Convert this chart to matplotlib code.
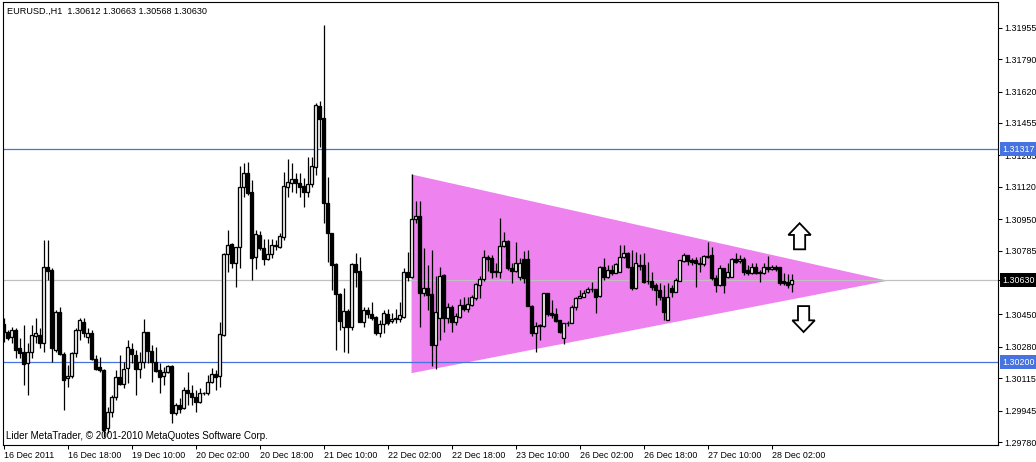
import matplotlib
matplotlib.use("Agg")
import matplotlib.pyplot as plt
import matplotlib.transforms as mtransforms
from matplotlib.patches import Polygon, FancyArrow
import numpy as np

plt.rcParams['font.family'] = ['Liberation Sans', 'DejaVu Sans']

# EURUSD H1 candles (one row = 10 bars)
opens = np.array([
    1.30400, 1.30360, 1.30330, 1.30368, 1.30272, 1.30251, 1.30194, 1.30255, 1.30337, 1.30342,
    1.30299, 1.30701, 1.30684, 1.30263, 1.30465, 1.30243, 1.30115, 1.30129, 1.30246, 1.30368,
    1.30412, 1.30330, 1.30351, 1.30215, 1.30176, 1.30158, 1.29852, 1.29940, 1.30018, 1.30123,
    1.30085, 1.30167, 1.30269, 1.30237, 1.30162, 1.30202, 1.30356, 1.30260, 1.30199, 1.30158,
    1.30129, 1.30146, 1.30180, 1.29931, 1.29975, 1.29957, 1.30053, 1.30036, 1.30018, 1.29989,
    1.30036, 1.30036, 1.30094, 1.30138, 1.30129, 1.30342, 1.30768, 1.30818, 1.30719, 1.30803,
    1.31118, 1.31191, 1.31091, 1.30750, 1.30867, 1.30797, 1.30740, 1.30768, 1.30810, 1.30806,
    1.30855, 1.31121, 1.31142, 1.31160, 1.31142, 1.31125, 1.31095, 1.31133, 1.31226, 1.31545,
    1.31480, 1.31037, 1.30876, 1.30715, 1.30558, 1.30383, 1.30468, 1.30383, 1.30713, 1.30680,
    1.30412, 1.30474, 1.30453, 1.30435, 1.30354, 1.30400, 1.30453, 1.30416, 1.30426, 1.30426,
    1.30438, 1.30671, 1.30648, 1.30950, 1.30967, 1.30564, 1.30591, 1.30558, 1.30290, 1.30430,
    1.30657, 1.30430, 1.30488, 1.30409, 1.30438, 1.30500, 1.30477, 1.30500, 1.30535, 1.30605,
    1.30635, 1.30750, 1.30745, 1.30680, 1.30675, 1.30810, 1.30836, 1.30696, 1.30680, 1.30645,
    1.30740, 1.30740, 1.30495, 1.30354, 1.30390, 1.30391, 1.30561, 1.30459, 1.30453, 1.30421,
    1.30325, 1.30404, 1.30407, 1.30488, 1.30535, 1.30543, 1.30570, 1.30582, 1.30582, 1.30547,
    1.30701, 1.30648, 1.30684, 1.30669, 1.30675, 1.30753, 1.30774, 1.30701, 1.30587, 1.30705,
    1.30710, 1.30626, 1.30626, 1.30605, 1.30579, 1.30543, 1.30421, 1.30587, 1.30570, 1.30627,
    1.30732, 1.30762, 1.30736, 1.30736, 1.30719, 1.30713, 1.30750, 1.30762, 1.30643, 1.30605,
    1.30692, 1.30648, 1.30648, 1.30740, 1.30731, 1.30740, 1.30684, 1.30669, 1.30698, 1.30675,
    1.30669, 1.30698, 1.30687, 1.30701, 1.30698, 1.30626, 1.30619, 1.30612,
])
highs = np.array([
    1.30430, 1.30368, 1.30384, 1.30379, 1.30325, 1.30395, 1.30299, 1.30395, 1.30430, 1.30377,
    1.30841, 1.30841, 1.30694, 1.30474, 1.30491, 1.30253, 1.30185, 1.30253, 1.30379, 1.30433,
    1.30430, 1.30377, 1.30368, 1.30237, 1.30228, 1.30164, 1.29966, 1.30027, 1.30158, 1.30237,
    1.30200, 1.30316, 1.30299, 1.30263, 1.30255, 1.30426, 1.30360, 1.30290, 1.30278, 1.30194,
    1.30176, 1.30185, 1.30185, 1.29984, 1.30011, 1.30068, 1.30150, 1.30080, 1.30053, 1.30062,
    1.30045, 1.30132, 1.30167, 1.30158, 1.30409, 1.30771, 1.30894, 1.30827, 1.30806, 1.31230,
    1.31244, 1.31252, 1.31156, 1.30894, 1.30890, 1.30845, 1.30845, 1.30845, 1.30841, 1.30876,
    1.31200, 1.31265, 1.31247, 1.31194, 1.31191, 1.31165, 1.31278, 1.31278, 1.31560, 1.31572,
    1.31970, 1.31173, 1.30878, 1.30720, 1.30563, 1.30587, 1.30477, 1.30719, 1.30771, 1.30750,
    1.30491, 1.30491, 1.30517, 1.30442, 1.30421, 1.30474, 1.30477, 1.30459, 1.30477, 1.30517,
    1.30692, 1.30780, 1.31188, 1.31047, 1.31047, 1.30797, 1.30710, 1.30789, 1.30652, 1.30701,
    1.30662, 1.30509, 1.30500, 1.30456, 1.30530, 1.30543, 1.30543, 1.30552, 1.30617, 1.30652,
    1.30789, 1.30762, 1.30762, 1.30719, 1.30955, 1.30885, 1.30841, 1.30719, 1.30832, 1.30747,
    1.30785, 1.30789, 1.30500, 1.30410, 1.30400, 1.30564, 1.30564, 1.30526, 1.30482, 1.30421,
    1.30407, 1.30416, 1.30500, 1.30543, 1.30579, 1.30579, 1.30596, 1.30622, 1.30584, 1.30705,
    1.30748, 1.30710, 1.30710, 1.30719, 1.30815, 1.30815, 1.30778, 1.30789, 1.30780, 1.30768,
    1.30771, 1.30727, 1.30671, 1.30614, 1.30614, 1.30605, 1.30614, 1.30605, 1.30640, 1.30736,
    1.30771, 1.30762, 1.30745, 1.30753, 1.30753, 1.30762, 1.30832, 1.30806, 1.30657, 1.30710,
    1.30694, 1.30719, 1.30745, 1.30771, 1.30762, 1.30753, 1.30710, 1.30719, 1.30719, 1.30684,
    1.30719, 1.30757, 1.30710, 1.30710, 1.30699, 1.30669, 1.30662, 1.30663,
])
lows = np.array([
    1.30307, 1.30316, 1.30299, 1.30220, 1.30220, 1.30080, 1.30027, 1.30220, 1.30299, 1.30272,
    1.30255, 1.30631, 1.30202, 1.30253, 1.30237, 1.29948, 1.30071, 1.30116, 1.30228, 1.30316,
    1.30333, 1.30299, 1.30211, 1.30158, 1.30150, 1.29808, 1.29826, 1.29913, 1.30001, 1.30080,
    1.30064, 1.30089, 1.30194, 1.30027, 1.30115, 1.30167, 1.30194, 1.30097, 1.30150, 1.30036,
    1.30080, 1.30141, 1.29879, 1.29922, 1.29933, 1.29952, 1.29975, 1.29975, 1.29940, 1.29984,
    1.30027, 1.30027, 1.30089, 1.30053, 1.30071, 1.30337, 1.30675, 1.30692, 1.30596, 1.30692,
    1.31068, 1.31077, 1.30631, 1.30687, 1.30789, 1.30710, 1.30736, 1.30745, 1.30789, 1.30799,
    1.30841, 1.31068, 1.31095, 1.31089, 1.31068, 1.31016, 1.31068, 1.31121, 1.31182, 1.31331,
    1.30929, 1.30727, 1.30579, 1.30263, 1.30368, 1.30255, 1.30249, 1.30368, 1.30596, 1.30410,
    1.30386, 1.30432, 1.30421, 1.30342, 1.30333, 1.30351, 1.30395, 1.30404, 1.30407, 1.30410,
    1.30432, 1.30627, 1.30642, 1.30930, 1.30386, 1.30547, 1.30474, 1.30181, 1.30164, 1.30316,
    1.30360, 1.30404, 1.30360, 1.30395, 1.30432, 1.30468, 1.30463, 1.30495, 1.30526, 1.30535,
    1.30627, 1.30680, 1.30640, 1.30648, 1.30640, 1.30804, 1.30684, 1.30614, 1.30673, 1.30631,
    1.30614, 1.30495, 1.30337, 1.30255, 1.30316, 1.30386, 1.30442, 1.30432, 1.30410, 1.30353,
    1.30295, 1.30390, 1.30404, 1.30474, 1.30535, 1.30542, 1.30563, 1.30568, 1.30456, 1.30543,
    1.30631, 1.30642, 1.30657, 1.30668, 1.30673, 1.30747, 1.30694, 1.30579, 1.30584, 1.30684,
    1.30614, 1.30610, 1.30579, 1.30500, 1.30526, 1.30421, 1.30421, 1.30543, 1.30568, 1.30626,
    1.30726, 1.30710, 1.30710, 1.30596, 1.30675, 1.30705, 1.30747, 1.30631, 1.30570, 1.30600,
    1.30561, 1.30642, 1.30647, 1.30719, 1.30720, 1.30657, 1.30657, 1.30662, 1.30662, 1.30622,
    1.30662, 1.30673, 1.30684, 1.30678, 1.30605, 1.30605, 1.30587, 1.30568,
])
closes = np.array([
    1.30360, 1.30325, 1.30368, 1.30263, 1.30249, 1.30190, 1.30255, 1.30342, 1.30351, 1.30299,
    1.30701, 1.30680, 1.30272, 1.30465, 1.30243, 1.30106, 1.30129, 1.30246, 1.30368, 1.30421,
    1.30351, 1.30351, 1.30215, 1.30164, 1.30158, 1.29843, 1.29940, 1.30018, 1.30123, 1.30085,
    1.30162, 1.30278, 1.30243, 1.30162, 1.30202, 1.30356, 1.30260, 1.30199, 1.30155, 1.30123,
    1.30150, 1.30180, 1.29934, 1.29975, 1.29955, 1.30053, 1.30036, 1.30015, 1.29992, 1.30036,
    1.30038, 1.30094, 1.30138, 1.30123, 1.30348, 1.30768, 1.30815, 1.30719, 1.30803, 1.31118,
    1.31191, 1.31089, 1.30745, 1.30872, 1.30797, 1.30740, 1.30768, 1.30815, 1.30813, 1.30862,
    1.31125, 1.31146, 1.31160, 1.31139, 1.31121, 1.31095, 1.31133, 1.31230, 1.31548, 1.31475,
    1.31037, 1.30876, 1.30710, 1.30558, 1.30417, 1.30468, 1.30383, 1.30713, 1.30675, 1.30412,
    1.30474, 1.30453, 1.30430, 1.30351, 1.30400, 1.30456, 1.30407, 1.30426, 1.30432, 1.30447,
    1.30671, 1.30648, 1.30950, 1.30967, 1.30564, 1.30591, 1.30552, 1.30290, 1.30465, 1.30652,
    1.30430, 1.30488, 1.30412, 1.30442, 1.30500, 1.30477, 1.30503, 1.30543, 1.30608, 1.30635,
    1.30750, 1.30740, 1.30675, 1.30675, 1.30811, 1.30836, 1.30692, 1.30680, 1.30719, 1.30719,
    1.30643, 1.30495, 1.30354, 1.30390, 1.30395, 1.30561, 1.30453, 1.30447, 1.30417, 1.30360,
    1.30404, 1.30407, 1.30491, 1.30535, 1.30549, 1.30561, 1.30582, 1.30584, 1.30543, 1.30698,
    1.30648, 1.30684, 1.30669, 1.30713, 1.30750, 1.30774, 1.30701, 1.30587, 1.30719, 1.30710,
    1.30622, 1.30626, 1.30596, 1.30579, 1.30543, 1.30465, 1.30543, 1.30570, 1.30631, 1.30736,
    1.30762, 1.30732, 1.30724, 1.30719, 1.30713, 1.30757, 1.30757, 1.30643, 1.30605, 1.30692,
    1.30605, 1.30675, 1.30740, 1.30727, 1.30740, 1.30675, 1.30666, 1.30698, 1.30669, 1.30666,
    1.30698, 1.30687, 1.30698, 1.30689, 1.30617, 1.30614, 1.30605, 1.30630,
])

# axis labels
time_ticks = [0, 16, 32, 48, 64, 80, 96, 112, 128, 144, 160, 176, 192]
time_labels = ["16 Dec 2011", "16 Dec 18:00", "19 Dec 10:00", "20 Dec 02:00",
               "20 Dec 18:00", "21 Dec 10:00", "22 Dec 02:00", "22 Dec 18:00",
               "23 Dec 10:00", "26 Dec 02:00", "26 Dec 18:00", "27 Dec 10:00",
               "28 Dec 02:00"]
price_ticks = [1.31955, 1.31790, 1.31620, 1.31455, 1.31285, 1.31120, 1.30950,
               1.30785, 1.30630, 1.30450, 1.30280, 1.30115, 1.29945, 1.29780]

# objects on the chart
blue_levels = [1.31317, 1.30200]
bid_level = 1.30630
tri_bars = [102, 102, 221]
tri_prices = [1.31185, 1.30142, 1.30627]
arrow_up = (199, 1.30792, 1.30929)    # bar, from, to
arrow_down = (200, 1.30494, 1.30358)

fs = 6.4
W, H = 1036, 462
blue = '#4673E0'
fig = plt.figure(figsize=(W / 100, H / 100), dpi=100)
ax = fig.add_axes([2.5 / W, 1 - 445 / H, 995.5 / W, 443 / H])

# triangle object
ax.add_patch(Polygon(list(zip(tri_bars, tri_prices)), closed=True,
                     facecolor='#EE82EE', edgecolor='none', zorder=1))

# horizontal lines
for lvl in blue_levels:
    ax.axhline(lvl, color=blue, lw=0.9, zorder=2)
ax.axhline(bid_level, color='#C0C0C0', lw=0.9, zorder=2)

# candles
bars = np.arange(len(opens))
bull = closes >= opens
ax.vlines(bars, lows, highs, color='black', lw=0.9, zorder=3)
ax.bar(bars, np.abs(closes - opens), bottom=np.minimum(opens, closes), width=0.55,
       color=np.where(bull, 'white', 'black'), edgecolor='black', linewidth=0.95, zorder=4)

# up / down arrows
for bar, p0, p1 in [arrow_up, arrow_down]:
    ax.add_patch(FancyArrow(bar, p0, 0, p1 - p0, width=2.8, head_width=5.6,
                            head_length=abs(p1 - p0) * 0.45, length_includes_head=True,
                            facecolor='white', edgecolor='black', lw=1.3, zorder=5))

ax.set_xlim(-0.25, 248.6)
ax.set_ylim(1.29765, 1.32090)

ax.set_xticks(time_ticks)
ax.set_xticklabels(time_labels, ha='left')
ax.set_yticks(price_ticks)
ax.set_yticklabels(["%.5f" % p for p in price_ticks])
ax.yaxis.tick_right()
ax.tick_params(axis='both', direction='out', length=3, width=0.75,
               labelsize=fs, pad=1.5, colors='black')

for sp in ax.spines.values():
    sp.set_linewidth(0.8)
    sp.set_color('black')

# price labels of the lines on the right axis
trans = mtransforms.blended_transform_factory(ax.transAxes, ax.transData)
for lvl, bg in [(blue_levels[0], blue), (blue_levels[1], blue), (bid_level, 'black')]:
    ax.text(1.0045, lvl, "%.5f" % lvl, transform=trans, color='white', fontsize=fs,
            va='center', ha='left', clip_on=False, zorder=10,
            bbox=dict(boxstyle='square,pad=0.3', facecolor=bg, edgecolor='none'))

fig.text(7 / W, 1 - 11 / H, "EURUSD.,H1  1.30612 1.30663 1.30568 1.30630",
         fontsize=6.6, va='center', ha='left')
fig.text(6 / W, 1 - 436 / H, "Lider MetaTrader, \u00a9 2001-2010 MetaQuotes Software Corp.",
         fontsize=7.1, va='center', ha='left')

fig.savefig('out.png', dpi=100)
